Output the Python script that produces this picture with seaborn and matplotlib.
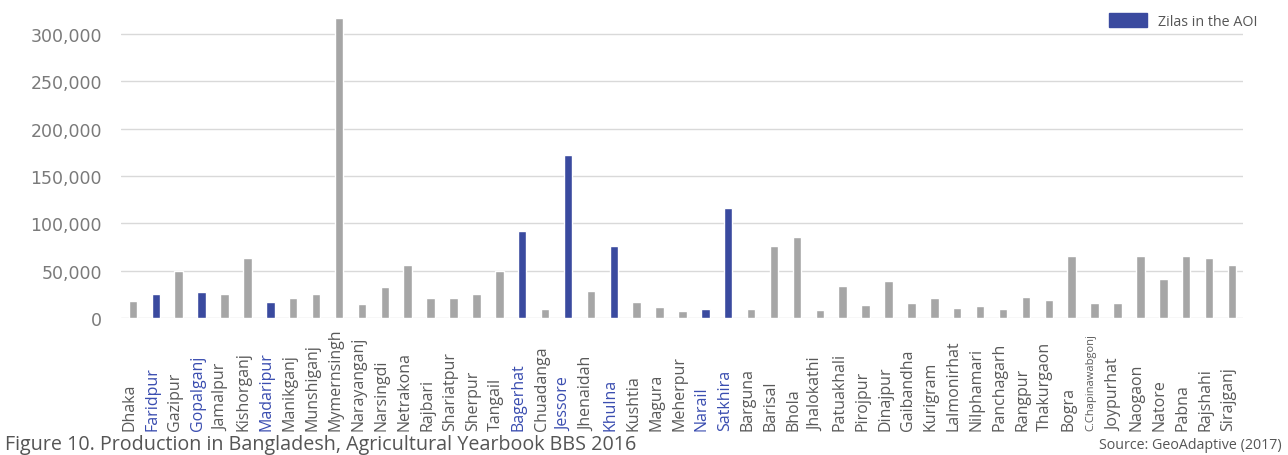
import matplotlib
matplotlib.use("Agg")
import matplotlib.pyplot as plt
import matplotlib.transforms as mtransforms
from matplotlib.patches import Patch
from matplotlib.ticker import FuncFormatter
import seaborn as sns
import pandas as pd

zilas = ["Dhaka", "Faridpur", "Gazipur", "Gopalganj", "Jamalpur", "Kishorganj", "Madaripur",
         "Manikganj", "Munshiganj", "Mymernsingh", "Narayanganj", "Narsingdi", "Netrakona",
         "Rajbari", "Shariatpur", "Sherpur", "Tangail", "Bagerhat", "Chuadanga", "Jessore",
         "Jhenaidah", "Khulna", "Kushtia", "Magura", "Meherpur", "Narail", "Satkhira",
         "Barguna", "Barisal", "Bhola", "Jhalokathi", "Patuakhali", "Pirojpur", "Dinajpur",
         "Gaibandha", "Kurigram", "Lalmonirhat", "Nilphamari", "Panchagarh", "Rangpur",
         "Thakurgaon", "Bogra", "C.Chapinawabgonj", "Joypurhat", "Naogaon", "Natore",
         "Pabna", "Rajshahi", "Sirajganj"]
production = [18500, 25500, 50000, 27800, 25500, 63400, 16600,
              21100, 25500, 317000, 14800, 32400, 56300,
              21100, 21100, 25500, 49300, 92300, 9500, 172600,
              28900, 76400, 16600, 12000, 7700, 9500, 116300,
              9500, 75800, 85300, 8800, 34200, 14100, 38800,
              16200, 21100, 10200, 12300, 9500, 22500,
              19000, 65200, 16200, 16200, 65200, 41200,
              65200, 63100, 56000]
aoi_zilas = ["Faridpur", "Gopalganj", "Madaripur", "Bagerhat", "Jessore", "Khulna",
             "Narail", "Satkhira"]
y_ticks = [0, 50000, 100000, 150000, 200000, 250000, 300000]

GRAY = "#a6a6a6"
BLUE = "#3a4a9f"
LABEL_GRAY = "#595959"
LABEL_BLUE = "#3a4db0"

df = pd.DataFrame({"zila": zilas, "value": production})
df["group"] = ["AOI" if z in aoi_zilas else "Other" for z in zilas]

sns.set_theme(style="white")
plt.rcParams["font.family"] = ["Open Sans", "DejaVu Sans"]

fig = plt.figure(figsize=(12.88, 4.56), dpi=100)
ax = fig.add_axes([0.0943, 0.3004, 0.8711, 0.664])

sns.barplot(data=df, x="zila", y="value", hue="group",
            palette={"AOI": BLUE, "Other": GRAY}, dodge=False, width=0.37,
            ax=ax, legend=False, saturation=1)

ax.set_xlim(-0.5, len(zilas) - 0.5)
ax.set_ylim(0, 320000)
ax.set_yticks(y_ticks)
ax.yaxis.set_major_formatter(FuncFormatter(lambda v, p: f"{int(v):,}"))
ax.tick_params(axis="y", labelsize=12.5, labelcolor="#7a7a7a", length=0, pad=14)
for t in ax.get_yticklabels():
    t.set_family(["DejaVu Sans"])
ax.set_xticks([])
ax.set_xlabel("")
ax.set_ylabel("")
ax.grid(axis="y", color="#d9d9d9", linewidth=1)
ax.set_axisbelow(True)
for s in ax.spines.values():
    s.set_visible(False)

trans = mtransforms.blended_transform_factory(ax.transData, fig.transFigure)
for i, z in enumerate(zilas):
    col = LABEL_BLUE if z in aoi_zilas else LABEL_GRAY
    fs = 8 if z == "C.Chapinawabgonj" else 11.5
    ax.text(i - 0.15, 1 - 431 / 456, z, rotation=90, ha="center", va="bottom",
            fontsize=fs, color=col, transform=trans)

leg = ax.legend(handles=[Patch(facecolor=BLUE, edgecolor=BLUE, label="Zilas in the AOI")],
                loc="upper right", bbox_to_anchor=(1.024, 1.05), frameon=False,
                fontsize=10.3, handlelength=2.65, handleheight=1.15, handletextpad=0.75)
for t in leg.get_texts():
    t.set_color("#555555")

fig.text(5 / 1288, 1 - 445 / 456, "Figure 10. Production in Bangladesh, Agricultural Yearbook BBS 2016",
         fontsize=14.2, color="#555555", ha="left", va="center")
fig.text(1282 / 1288, 1 - 446 / 456, "Source: GeoAdaptive (2017)",
         fontsize=10.3, color="#555555", ha="right", va="center")

fig.savefig("out.png", dpi=100)
